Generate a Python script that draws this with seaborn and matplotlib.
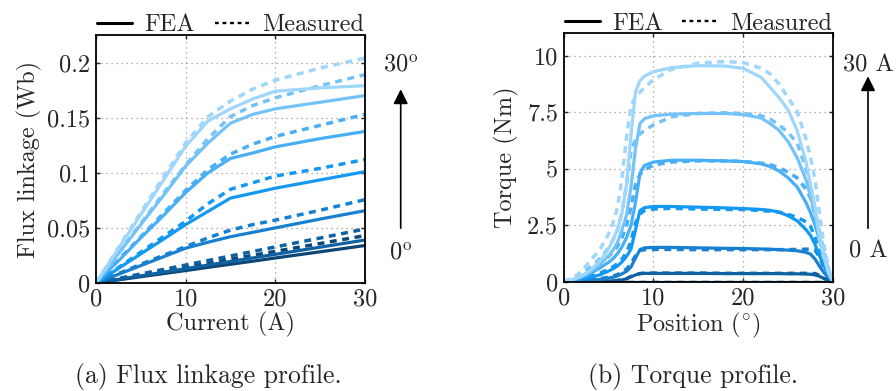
import numpy as np
import pandas as pd
import matplotlib
matplotlib.use("Agg")
import matplotlib.pyplot as plt
from matplotlib.lines import Line2D
import seaborn as sns

# ---------------- data ----------------
# (a) flux linkage vs current, one curve per rotor angle (0..30 deg)
current = [0, 2.5, 5, 7.5, 10, 12.5, 15, 17.5, 20, 25, 30]
angles = ["0", "5", "10", "15", "20", "25", "30"]

flux_fea_0 = [0, 0.0028, 0.0057, 0.0085, 0.0113, 0.0142, 0.017, 0.0198, 0.0227, 0.0283, 0.034]
flux_fea_5 = [0, 0.0033, 0.0065, 0.0098, 0.013, 0.0163, 0.0195, 0.0228, 0.026, 0.0325, 0.039]
flux_fea_10 = [0, 0.0079, 0.0158, 0.0237, 0.0316, 0.037, 0.042, 0.046, 0.050, 0.058, 0.0656]
flux_fea_15 = [0, 0.0132, 0.0264, 0.0396, 0.053, 0.065, 0.077, 0.0815, 0.086, 0.0935, 0.101]
flux_fea_20 = [0, 0.020, 0.041, 0.061, 0.082, 0.100, 0.113, 0.118, 0.1235, 0.131, 0.1375]
flux_fea_25 = [0, 0.0265, 0.053, 0.079, 0.106, 0.127, 0.145, 0.153, 0.158, 0.164, 0.170]
flux_fea_30 = [0, 0.031, 0.062, 0.093, 0.124, 0.147, 0.158, 0.167, 0.174, 0.177, 0.179]

flux_meas_0 = [0, 0.0036, 0.0072, 0.0108, 0.0143, 0.0179, 0.0215, 0.0251, 0.0287, 0.0358, 0.043]
flux_meas_5 = [0, 0.0041, 0.0082, 0.0123, 0.0163, 0.0204, 0.0245, 0.0286, 0.0327, 0.0408, 0.049]
flux_meas_10 = [0, 0.0085, 0.017, 0.025, 0.033, 0.041, 0.048, 0.053, 0.057, 0.066, 0.0756]
flux_meas_15 = [0, 0.014, 0.028, 0.042, 0.056, 0.072, 0.085, 0.091, 0.097, 0.104, 0.112]
flux_meas_20 = [0, 0.021, 0.042, 0.063, 0.084, 0.103, 0.117, 0.126, 0.133, 0.143, 0.153]
flux_meas_25 = [0, 0.027, 0.054, 0.081, 0.107, 0.131, 0.151, 0.161, 0.168, 0.179, 0.189]
flux_meas_30 = [0, 0.032, 0.064, 0.096, 0.127, 0.151, 0.165, 0.176, 0.184, 0.195, 0.204]

# (b) torque vs rotor position, one curve per phase current (0..30 A)
position = [0, 1, 2, 3, 4, 5, 5.5, 6, 6.5, 7, 7.5, 8, 8.5, 9, 10, 12, 15, 18,
            20, 22, 23, 24, 25, 26, 27, 27.5, 28, 28.5, 29, 29.5, 30]
currents = ["0", "5", "10", "15", "20", "25", "30"]

torque_fea_0 = [0.0] * 31
torque_fea_5 = [0, 0, 0.01, 0.01, 0.02, 0.03, 0.04, 0.05, 0.08, 0.13, 0.22, 0.30, 0.36, 0.37, 0.37, 0.37,
                0.37, 0.36, 0.36, 0.36, 0.36, 0.36, 0.35, 0.35, 0.34, 0.33, 0.30, 0.24, 0.14, 0.06, 0]
torque_fea_10 = [0, 0.01, 0.03, 0.06, 0.10, 0.16, 0.20, 0.26, 0.35, 0.46, 0.65, 1.05, 1.42, 1.50, 1.52, 1.52,
                 1.50, 1.48, 1.47, 1.45, 1.44, 1.42, 1.40, 1.37, 1.30, 1.22, 1.00, 0.68, 0.40, 0.18, 0]
torque_fea_15 = [0, 0.03, 0.10, 0.19, 0.30, 0.47, 0.57, 0.70, 0.88, 1.12, 1.45, 2.30, 3.15, 3.28, 3.33, 3.33,
                 3.30, 3.27, 3.24, 3.20, 3.16, 3.08, 2.92, 2.70, 2.30, 2.05, 1.65, 1.15, 0.70, 0.30, 0]
torque_fea_20 = [0, 0.05, 0.18, 0.37, 0.60, 0.86, 1.02, 1.25, 1.55, 1.95, 2.50, 3.50, 4.80, 5.15, 5.30, 5.38,
                 5.38, 5.35, 5.32, 5.22, 5.10, 4.90, 4.60, 4.20, 3.50, 3.05, 2.50, 1.85, 1.15, 0.45, 0]
torque_fea_25 = [0, 0.08, 0.24, 0.45, 0.75, 1.15, 1.40, 1.75, 2.30, 2.95, 4.20, 5.90, 7.00, 7.22, 7.35, 7.42,
                 7.45, 7.45, 7.40, 7.25, 7.00, 6.70, 6.20, 5.50, 4.50, 3.75, 3.00, 1.90, 1.10, 0.35, 0]
torque_fea_30 = [0, 0.10, 0.25, 0.52, 0.90, 1.45, 1.85, 2.35, 3.05, 4.30, 6.50, 8.40, 8.90, 9.10, 9.30, 9.48,
                 9.57, 9.55, 9.45, 9.05, 8.60, 8.15, 7.60, 6.70, 5.30, 4.30, 3.30, 2.00, 1.10, 0.40, 0]

torque_meas_0 = [0.0] * 31
torque_meas_5 = [0, 0, 0.01, 0.01, 0.02, 0.03, 0.04, 0.06, 0.09, 0.14, 0.23, 0.31, 0.36, 0.38, 0.38, 0.38,
                 0.38, 0.37, 0.37, 0.37, 0.37, 0.37, 0.37, 0.37, 0.37, 0.37, 0.36, 0.28, 0.15, 0.06, 0]
torque_meas_10 = [0, 0.01, 0.04, 0.08, 0.13, 0.20, 0.25, 0.32, 0.42, 0.56, 0.80, 1.15, 1.38, 1.42, 1.43, 1.43,
                  1.42, 1.42, 1.42, 1.42, 1.42, 1.42, 1.42, 1.43, 1.44, 1.44, 1.40, 1.10, 0.60, 0.25, 0]
torque_meas_15 = [0, 0.04, 0.12, 0.24, 0.37, 0.55, 0.66, 0.80, 1.00, 1.30, 1.80, 2.60, 3.00, 3.15, 3.22, 3.25,
                  3.22, 3.20, 3.20, 3.15, 3.12, 3.08, 2.98, 2.85, 2.65, 2.45, 1.95, 1.25, 0.70, 0.30, 0]
torque_meas_20 = [0, 0.08, 0.24, 0.50, 0.80, 1.12, 1.32, 1.58, 1.95, 2.50, 3.30, 4.30, 4.75, 4.95, 5.17, 5.30,
                  5.35, 5.35, 5.33, 5.25, 5.18, 5.05, 4.85, 4.60, 4.10, 3.70, 2.95, 2.00, 1.20, 0.50, 0]
torque_meas_25 = [0, 0.12, 0.33, 0.65, 1.00, 1.50, 1.85, 2.30, 3.10, 4.30, 5.80, 6.30, 6.55, 6.70, 6.95, 7.30,
                  7.45, 7.48, 7.45, 7.35, 7.20, 6.95, 6.60, 6.15, 5.00, 4.20, 3.20, 2.20, 1.30, 0.50, 0]
torque_meas_30 = [0, 0.18, 0.45, 0.95, 1.40, 2.10, 2.60, 3.30, 4.60, 6.40, 7.80, 8.20, 8.40, 8.60, 8.95, 9.40,
                  9.68, 9.75, 9.70, 9.45, 9.20, 8.75, 8.15, 7.55, 6.30, 5.50, 4.50, 3.00, 1.60, 0.60, 0]

flux_fea = [flux_fea_0, flux_fea_5, flux_fea_10, flux_fea_15, flux_fea_20, flux_fea_25, flux_fea_30]
flux_meas = [flux_meas_0, flux_meas_5, flux_meas_10, flux_meas_15, flux_meas_20, flux_meas_25, flux_meas_30]
torque_fea = [torque_fea_0, torque_fea_5, torque_fea_10, torque_fea_15, torque_fea_20, torque_fea_25, torque_fea_30]
torque_meas = [torque_meas_0, torque_meas_5, torque_meas_10, torque_meas_15, torque_meas_20, torque_meas_25, torque_meas_30]

# dark navy -> light sky blue
palette = ["#0b4676", "#0f62a2", "#1880d0", "#1499f2", "#48aef5", "#74c3f8", "#9fd6fb"]

# ---------------- style ----------------
sns.set_style("ticks")
plt.rcParams["font.family"] = ["cmr10", "DejaVu Serif"]
plt.rcParams["mathtext.fontset"] = "cm"
plt.rcParams["axes.formatter.use_mathtext"] = True
FS = 17.5

fig = plt.figure(figsize=(8.96, 3.91), dpi=100)
ax1 = fig.add_axes([0.1071, 0.2762, 0.3002, 0.6343])
ax2 = fig.add_axes([0.6291, 0.2795, 0.3006, 0.6353])

SOLID_LW = 2.3
DASH_LW = 2.5
DASH_LS = (0, (2.0, 1.6))


def draw_family(ax, x, fea, meas, key, names):
    frames = []
    for name, yf, ym in zip(names, fea, meas):
        frames.append(pd.DataFrame({"x": x, "y": yf, "kind": "FEA", key: name}))
        frames.append(pd.DataFrame({"x": x, "y": ym, "kind": "Measured", key: name}))
    df = pd.concat(frames, ignore_index=True)
    for i, name in enumerate(names):
        sub = df[df[key] == name]
        sns.lineplot(data=sub[sub["kind"] == "Measured"], x="x", y="y", ax=ax,
                     color=palette[i], lw=DASH_LW, linestyle=DASH_LS, legend=False,
                     estimator=None, sort=False)
        sns.lineplot(data=sub[sub["kind"] == "FEA"], x="x", y="y", ax=ax,
                     color=palette[i], lw=SOLID_LW, legend=False,
                     estimator=None, sort=False)


draw_family(ax1, current, flux_fea, flux_meas, "angle", angles)
draw_family(ax2, position, torque_fea, torque_meas, "current", currents)

# axes cosmetics
ax1.set_xlim(0, 30)
ax1.set_ylim(0, 0.225)
ax1.set_xticks([0, 10, 20, 30])
ax1.set_yticks([0, 0.05, 0.1, 0.15, 0.2])
ax1.set_yticklabels(["0", "0.05", "0.1", "0.15", "0.2"])
ax1.set_xlabel("Current (A)", fontsize=FS, labelpad=1)
ax1.set_ylabel("Flux linkage (Wb)", fontsize=FS, labelpad=4)

ax2.set_xlim(0, 30)
ax2.set_ylim(0, 11)
ax2.set_xticks([0, 10, 20, 30])
ax2.set_yticks([0, 2.5, 5, 7.5, 10])
ax2.set_yticklabels(["0", "2.5", "5", "7.5", "10"])
ax2.set_xlabel(r"Position ($^{\circ}$)", fontsize=FS, labelpad=1)
ax2.set_ylabel("Torque (Nm)", fontsize=FS, labelpad=6)

for ax in (ax1, ax2):
    ax.set_xticklabels(["0", "10", "20", "30"])
    ax.grid(True, color="#9a9a9a", lw=0.9, linestyle=(0, (1, 3)))
    ax.tick_params(direction="in", length=3, width=1, labelsize=FS, pad=4,
                   top=True, right=True)
    for s in ax.spines.values():
        s.set_visible(True)
        s.set_color("black")
        s.set_linewidth(1.3)
    handles = [Line2D([], [], color="black", lw=2.2),
               Line2D([], [], color="black", lw=1.7, linestyle=(0, (1.6, 1.6)))]
    ax.legend(handles, ["FEA", "Measured"], loc="lower center",
              bbox_to_anchor=(0.5, 0.985), ncol=2, frameon=False,
              fontsize=FS, handlelength=1.45, handletextpad=0.5,
              columnspacing=0.8, borderaxespad=0, borderpad=0.1)

# sweep direction annotations
def sweep(x_px, y_top_px, y_bot_px, tip_px, top_txt, bot_txt):
    fx = x_px / 896
    fig.text(fx, 1 - y_top_px / 391, top_txt, ha="center", va="center", fontsize=FS)
    fig.text(fx, 1 - y_bot_px / 391, bot_txt, ha="center", va="center", fontsize=FS)
    fig.add_artist(matplotlib.patches.FancyArrowPatch(
        (fx, 1 - 231 / 391), (fx, 1 - tip_px / 391), transform=fig.transFigure,
        arrowstyle="-|>", mutation_scale=22, lw=1.2, color="black"))

sweep(400.7, 65.5, 253, 86.5, r"30$^{\mathrm{o}}$", r"0$^{\mathrm{o}}$")
sweep(868, 65, 251.5, 73.5, "30 A", "0 A")

fig.text(208 / 896, 1 - 376 / 391, "(a) Flux linkage profile.", ha="center",
         va="center", fontsize=18.5)
fig.text(693 / 896, 1 - 376 / 391, "(b) Torque profile.", ha="center",
         va="center", fontsize=18.5)

fig.savefig("out.png", dpi=100)
